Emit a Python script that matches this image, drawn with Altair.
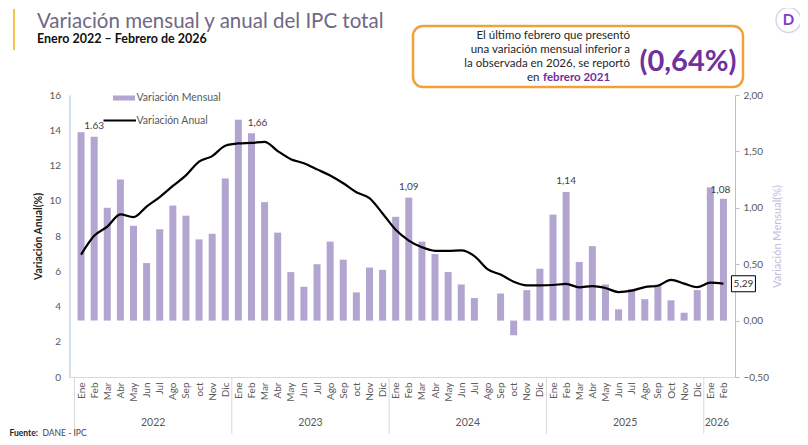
import altair as alt
import pandas as pd

# ---------------- data ----------------
meses = ["Ene", "Feb", "Mar", "Abr", "May", "Jun", "Jul", "Ago", "Sep", "oct", "Nov", "Dic",
         "Ene", "Feb", "Mar", "Abr", "May", "Jun", "Jul", "Ago", "Sep", "oct", "Nov", "Dic",
         "Ene", "Feb", "Mar", "Abr", "May", "Jun", "Jul", "Ago", "Sep", "oct", "Nov", "Dic",
         "Ene", "Feb", "Mar", "Abr", "May", "Jun", "Jul", "Ago", "Sep", "Oct", "Nov", "Dic",
         "Ene", "Feb"]
anios = ["2022", "2023", "2024", "2025", "2026"]
meses_por_anio = [12, 12, 12, 12, 2]

mensual = [1.67, 1.63, 1.00, 1.25, 0.84, 0.51, 0.81, 1.02, 0.93, 0.72, 0.77, 1.26,
           1.78, 1.66, 1.05, 0.78, 0.43, 0.30, 0.50, 0.70, 0.54, 0.25, 0.47, 0.45,
           0.92, 1.09, 0.70, 0.59, 0.43, 0.32, 0.20, 0.00, 0.24, -0.13, 0.27, 0.46,
           0.94, 1.14, 0.52, 0.66, 0.32, 0.10, 0.28, 0.19, 0.32, 0.18, 0.07, 0.27,
           1.18, 1.08]
anual = [6.94, 8.01, 8.53, 9.23, 9.07, 9.67, 10.21, 10.84, 11.44, 12.22, 12.53, 13.12,
         13.25, 13.28, 13.34, 12.82, 12.36, 12.13, 11.78, 11.43, 10.99, 10.48, 10.15, 9.28,
         8.35, 7.74, 7.36, 7.16, 7.16, 7.18, 6.86, 6.12, 5.81, 5.41, 5.20, 5.20,
         5.22, 5.28, 5.09, 5.16, 5.05, 4.82, 4.90, 5.10, 5.18, 5.51, 5.30, 5.10,
         5.35, 5.29]

etiquetas_idx = [1, 13, 25, 37, 49]
etiquetas_txt = ["1.63", "1,66", "1,09", "1,14", "1,08"]
etiquetas_dx = [0, 6, 0, 0, -3]
etiquetas_dy = [-11, -10, -11, -11, -9]

ultimo_txt = "5,29"

# ---------------- constants ----------------
FONT = "Lato"
W, H = 665.5, 282
PURPLE_BAR = "#b2a5cf"
GRAY_TXT = "#595959"

n = len(mensual)
idx = list(range(n))
df = pd.DataFrame({"idx": idx, "mes": meses, "mensual": mensual, "anual": anual})

xscale = alt.Scale(domain=[-0.5, n - 0.5], nice=False, zero=False)

label_arr = "[" + ",".join("'" + m + "'" for m in meses) + "]"
xaxis = alt.Axis(values=idx, labelExpr=label_arr + "[round(datum.value)]",
                 labelAngle=270, ticks=False, grid=False, title=None,
                 domainColor="#d9d9d9", labelFontSize=10, labelColor=GRAY_TXT,
                 labelPadding=5, labelFlush=False, labelOverlap=False,
                 labelBound=False, labelFont=FONT)

yscale_m = alt.Scale(domain=[-0.5, 2.0], nice=False, zero=True)
yaxis_m = alt.Axis(orient="right", values=[-0.5, 0, 0.5, 1.0, 1.5, 2.0],
                   labelExpr="replace(format(datum.value, '.2f'), '.', ',')",
                   grid=False, ticks=True, tickSize=4, tickColor="#bfbfbf",
                   domainColor="#bfbfbf", labelColor=GRAY_TXT, labelFontSize=10,
                   labelPadding=4, labelFont=FONT, labelOverlap=False,
                   title="Variación Mensual(%)", titleColor="#c6bbdd",
                   titleFontWeight="normal", titleFontSize=11, titleFont=FONT,
                   titleAngle=270, titlePadding=14)

yscale_a = alt.Scale(domain=[0, 16], nice=False)
yaxis_a = alt.Axis(orient="left", values=list(range(0, 17, 2)), grid=False,
                   ticks=False, labelPadding=9, domainColor="#a9bfdd",
                   labelColor=GRAY_TXT, labelFontSize=10, labelFont=FONT,
                   labelOverlap=False,
                   title="Variación Anual(%)", titleFontWeight="bold",
                   titleFontSize=10.5, titleColor="#222222", titleFont=FONT,
                   titlePadding=5)

# year separators and centres
sep_pos, centros = [], []
start = 0
for c in meses_por_anio:
    sep_pos.append(start - 0.5)
    centros.append(start + (c - 1) / 2)
    start += c
df_sep = pd.DataFrame({"pos": sep_pos})
df_year = pd.DataFrame({"pos": centros, "anio": anios})


def X(field):
    return alt.X(field, scale=xscale, axis=xaxis)


def YM(field):
    return alt.Y(field, scale=yscale_m, axis=yaxis_m)


def YA(field):
    return alt.Y(field, scale=yscale_a, axis=yaxis_a)


# ---------------- bars (right axis) ----------------
bars = alt.Chart(df).mark_bar(size=7, color=PURPLE_BAR).encode(
    x=X("idx:Q"), y=YM("mensual:Q"))

label_layers = []
for i, t, dx, dy in zip(etiquetas_idx, etiquetas_txt, etiquetas_dx, etiquetas_dy):
    label_layers.append(
        alt.Chart(df).transform_filter(alt.datum.idx == i).mark_text(
            text=t, dx=dx, dy=dy, fontSize=10, font=FONT, color="#404040"
        ).encode(x=X("idx:Q"), y=YM("mensual:Q"))
    )

seps = alt.Chart(df_sep).mark_rule(color="#d9d9d9", strokeWidth=1).encode(
    x=X("pos:Q"), y=alt.value(H), y2=alt.value(H + 57)
)
years = alt.Chart(df_year).mark_text(fontSize=10.5, font=FONT, color=GRAY_TXT).encode(
    x=X("pos:Q"), y=alt.value(H + 46), text="anio:N"
)

# ---------------- annotations ----------------
dummy = pd.DataFrame({"a": [0]})


def txt(t, x, y, size, color="#262626", weight="normal", align="left", baseline="middle"):
    return alt.Chart(dummy).mark_text(
        text=t, fontSize=size, font=FONT, color=color, fontWeight=weight,
        align=align, baseline=baseline
    ).encode(x=alt.value(x), y=alt.value(y))


ann = []
# yellow accent bar
ann.append(alt.Chart(dummy).mark_rule(color="#f3c44a", strokeWidth=2).encode(
    x=alt.value(-55.5), y=alt.value(-86), y2=alt.value(-45)))
ann.append(txt("Variación mensual y anual del IPC total", -32.5, -67, 20.5,
               color="#6f6886", baseline="alphabetic"))
ann.append(txt("Enero 2022 – Febrero de 2026", -32.5, -52, 12.5,
               color="#111111", weight="bold", baseline="alphabetic"))
# callout box
ann.append(alt.Chart(dummy).mark_rect(fill="white", stroke="#f0a23a", strokeWidth=2.5,
                                      cornerRadius=10).encode(
    x=alt.value(343.5), x2=alt.value(673.5), y=alt.value(-69), y2=alt.value(-8)))
ann.append(txt("El último febrero que presentó", 560.5, -59, 11.5, align="right"))
ann.append(txt("una variación mensual inferior a", 560.5, -45, 11.5, align="right"))
ann.append(txt("la observada en 2026, se reportó", 560.5, -31, 11.5, align="right"))
ann.append(txt("en", 470, -17, 11.5, align="right"))
ann.append(txt("febrero 2021", 473.5, -17, 11.5, color="#7030a0", weight="bold"))
ann.append(txt("(0,64%)", 570, -33, 29, color="#7030a0", weight="bold"))
# logo
ann.append(alt.Chart(dummy).mark_point(shape="circle", size=620, stroke="#cdbfe6",
                                       strokeWidth=1.5, filled=False).encode(
    x=alt.value(719), y=alt.value(-75)))
ann.append(txt("D", 719, -75, 15, color="#7b3fc4", weight="bold", align="center"))
# legend
ann.append(alt.Chart(dummy).mark_rect(color=PURPLE_BAR).encode(
    x=alt.value(43.5), x2=alt.value(65.5), y=alt.value(0.5), y2=alt.value(5.5)))
ann.append(txt("Variación Mensual", 67, 3, 10.5, color=GRAY_TXT))
ann.append(alt.Chart(dummy).mark_rule(color="black", strokeWidth=2).encode(
    x=alt.value(34), x2=alt.value(66.5), y=alt.value(25.5)))
ann.append(txt("Variación Anual", 67, 25.5, 10.5, color=GRAY_TXT))
# footer
ann.append(txt("Fuente:", -60, 338, 8.5, color="#222222", weight="bold"))
ann.append(txt("DANE - IPC", -27, 338, 8.5, color="#444444"))

bar_group = alt.layer(bars, *label_layers, seps, years, *ann)

# ---------------- line (left axis) ----------------
line = alt.Chart(df).mark_line(color="black", strokeWidth=2.2, interpolate="monotone").encode(
    x=X("idx:Q"), y=YA("anual:Q"))
last = df[df.idx == n - 1]
end_box = alt.Chart(last).mark_point(
    shape="M-1.5,-1L1.5,-1L1.5,1L-1.5,1Z", size=256, filled=True, fill="white",
    stroke="black", strokeWidth=1, opacity=1, xOffset=20
).encode(x=X("idx:Q"), y=YA("anual:Q"))
end_txt = alt.Chart(last).mark_text(text=ultimo_txt, dx=20, fontSize=10, font=FONT,
                                    color="#333333").encode(
    x=X("idx:Q"), y=YA("anual:Q"))

line_group = alt.layer(line, end_box, end_txt)

chart = alt.layer(bar_group, line_group).resolve_scale(y="independent").properties(
    width=W, height=H,
    autosize=alt.AutoSizeParams(type="none"),
    padding={"left": 61.5, "top": 87, "right": 65, "bottom": 60},
    background="white",
).configure_view(stroke=None)

chart.save("out.html", embed_options={"renderer": "svg", "actions": False})
